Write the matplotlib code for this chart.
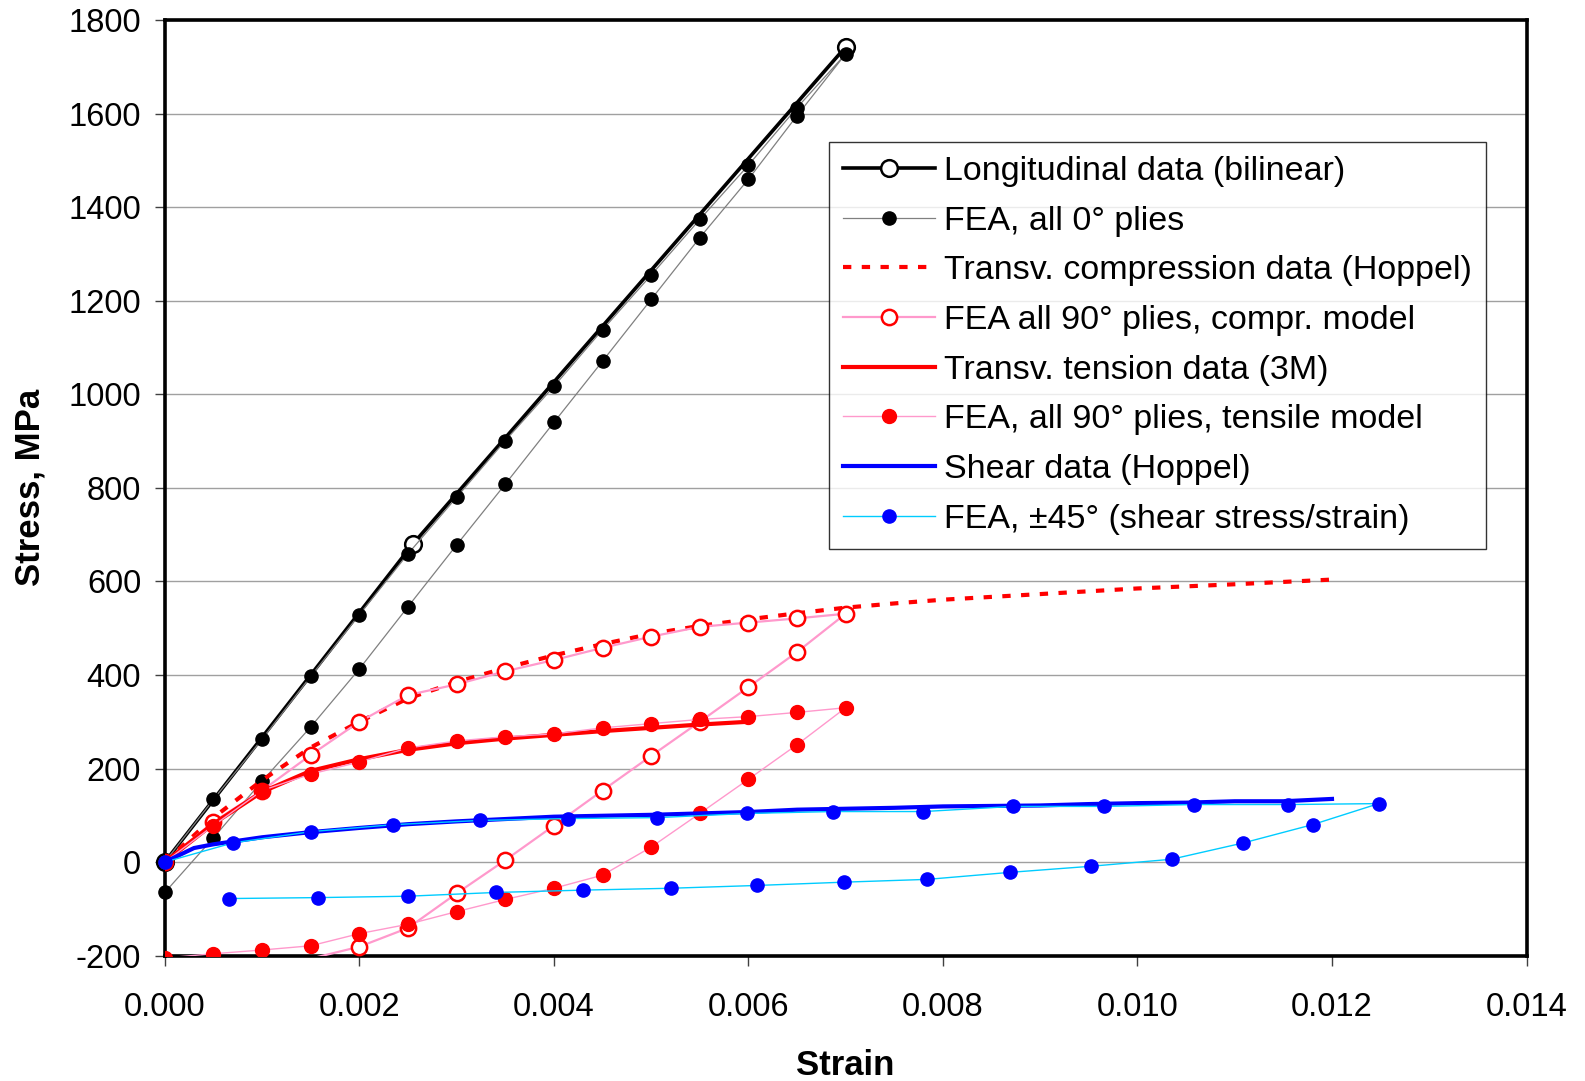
import numpy as np
import matplotlib.pyplot as plt

plt.rcParams['font.family'] = ['Liberation Sans', 'DejaVu Sans']
plt.rcParams['axes.unicode_minus'] = False

# longitudinal data (bilinear fit)
long_strain = [0.0, 0.00255, 0.0070]
long_stress = [0, 680, 1743]

# FEA, all 0 deg plies: loading then unloading branch
fea0_strain = [0.0, 0.0005, 0.001, 0.0015, 0.002, 0.0025, 0.003, 0.0035, 0.004, 0.0045,
               0.005, 0.0055, 0.006, 0.0065, 0.007,
               0.0065, 0.006, 0.0055, 0.005, 0.0045, 0.004, 0.0035, 0.003, 0.0025,
               0.002, 0.0015, 0.001, 0.0005, 0.0]
fea0_stress = [0, 134, 263, 397, 529, 659, 780, 901, 1017, 1138,
               1255, 1374, 1490, 1613, 1728,
               1596, 1460, 1335, 1203, 1071, 940, 808, 678, 546,
               413, 289, 173, 52, -65]

# transverse compression data (Hoppel)
comp_strain = [0.0, 0.0005, 0.001, 0.0015, 0.002, 0.0025, 0.003, 0.0035, 0.004, 0.0045,
               0.005, 0.0055, 0.006, 0.0065, 0.007, 0.0075, 0.008, 0.009, 0.010, 0.011, 0.012]
comp_stress = [0, 95, 175, 245, 300, 350, 385, 415, 442, 466,
               488, 505, 519, 532, 544, 553, 561, 573, 585, 594, 604]

# FEA, all 90 deg plies, compression model
fea90c_strain = [0.0, 0.0005, 0.001, 0.0015, 0.002, 0.0025, 0.003, 0.0035, 0.004, 0.0045,
                 0.005, 0.0055, 0.006, 0.0065, 0.007,
                 0.0065, 0.006, 0.0055, 0.005, 0.0045, 0.004, 0.0035, 0.003, 0.0025,
                 0.002, 0.001]
fea90c_stress = [0, 86, 153, 229, 300, 357, 380, 408, 432, 458,
                 482, 503, 512, 521, 531,
                 449, 374, 300, 227, 153, 78, 4, -67, -141,
                 -181, -232]

# transverse tension data (3M)
tens_strain = [0.0, 0.0005, 0.001, 0.0015, 0.002, 0.0025, 0.003, 0.0035, 0.004, 0.0045,
               0.005, 0.0055, 0.006]
tens_stress = [0, 82, 150, 195, 220, 240, 254, 264, 272, 280, 287, 294, 300]

# FEA, all 90 deg plies, tensile model
fea90t_strain = [0.0, 0.0005, 0.001, 0.0015, 0.002, 0.0025, 0.003, 0.0035, 0.004, 0.0045,
                 0.005, 0.0055, 0.006, 0.0065, 0.007,
                 0.0065, 0.006, 0.0055, 0.005, 0.0045, 0.004, 0.0035, 0.003, 0.0025,
                 0.002, 0.0015, 0.001, 0.0005, 0.0]
fea90t_stress = [0, 78, 153, 188, 214, 244, 259, 268, 274, 287,
                 296, 305, 311, 320, 330,
                 251, 177, 104, 32, -28, -56, -80, -106, -133,
                 -153, -179, -188, -196, -205]

# shear data (Hoppel)
shear_strain = [0.0, 0.0003, 0.0005, 0.001, 0.0015, 0.002, 0.0025, 0.003, 0.0035, 0.004,
                0.0045, 0.005, 0.0055, 0.006, 0.0065, 0.007, 0.0075, 0.008, 0.0085, 0.009,
                0.0095, 0.010, 0.0105, 0.011, 0.0115, 0.012]
shear_stress = [0, 30, 38, 53, 64, 73, 81, 87, 92, 97,
                99, 101, 104, 107, 112, 114, 116, 119, 120, 121,
                124, 126, 127, 130, 130, 135]

# FEA, +/-45 deg laminate (shear stress / strain)
fea45_strain = [0.0, 0.0007, 0.0015, 0.00235, 0.00324, 0.00414, 0.00506, 0.00599, 0.00687,
                0.0078, 0.00872, 0.00966, 0.01058, 0.01155, 0.01248,
                0.0118, 0.01109, 0.01035, 0.00952, 0.00869, 0.00784, 0.00698, 0.00609,
                0.0052, 0.0043, 0.0034, 0.0025, 0.00157, 0.00066]
fea45_stress = [0, 41, 65, 80, 89, 93, 95, 104, 108,
                108, 119, 119, 123, 123, 125,
                80, 41, 6, -9, -22, -37, -43, -50,
                -56, -60, -65, -73, -76, -78]

x_ticks = np.arange(0, 0.0141, 0.002)
y_ticks = np.arange(-200, 1801, 200)

fig = plt.figure(figsize=(15.85, 10.81), dpi=100)
ax = fig.add_axes([0.1040, 0.1160, 0.8591, 0.8653])

ax.plot(long_strain, long_stress, color='black', lw=2.6, marker='o', ms=12,
        mfc='white', mec='black', mew=1.8, zorder=3, clip_on=False,
        label='Longitudinal data (bilinear)')
ax.plot(fea0_strain, fea0_stress, color='#808080', lw=0.9, marker='o', ms=9.5,
        mfc='black', mec='black', zorder=3, clip_on=False,
        label='FEA, all 0° plies')
ax.plot(comp_strain, comp_stress, color='red', lw=3, linestyle=(0, (2, 2.5)),
        zorder=3, label='Transv. compression data (Hoppel)')
ax.plot(fea90c_strain, fea90c_stress, color='#FF99CC', lw=1.6, marker='o', ms=11,
        mfc='white', mec='red', mew=1.8, zorder=3,
        label='FEA all 90° plies, compr. model')
ax.plot(tens_strain, tens_stress, color='red', lw=3, zorder=3, clip_on=False,
        label='Transv. tension data (3M)')
ax.plot(fea90t_strain, fea90t_stress, color='#FF99CC', lw=1, marker='o', ms=10,
        mfc='red', mec='red', zorder=3,
        label='FEA, all 90° plies, tensile model')
ax.plot(shear_strain, shear_stress, color='#0000FF', lw=3, zorder=3, clip_on=False,
        label='Shear data (Hoppel)')
ax.plot(fea45_strain, fea45_stress, color='#00CCFF', lw=1, marker='o', ms=9.5,
        mfc='#0000FF', mec='#0000FF', zorder=3, clip_on=False,
        label='FEA, ±45° (shear stress/strain)')

ax.set_xlim(0, 0.014)
ax.set_ylim(-200, 1800)
ax.set_xticks(x_ticks)
ax.set_xticklabels([f'{t:.3f}' for t in x_ticks])
ax.set_yticks(y_ticks)
ax.yaxis.grid(True, color='#A0A0A0', lw=1)
ax.set_axisbelow(True)

for side in ax.spines.values():
    side.set_linewidth(2.6)
    side.set_color('black')

ax.tick_params(axis='both', direction='out', length=7, width=1, color='#404040',
               labelsize=23.5, pad=10)
ax.tick_params(axis='x', pad=19)

ax.set_xlabel('Strain', fontsize=25, fontweight='bold')
ax.set_ylabel('Stress, MPa', fontsize=25, fontweight='bold')
ax.xaxis.set_label_coords(0.5, -0.100)
ax.yaxis.set_label_coords(-0.087, 0.5)

leg = ax.legend(loc='upper left', bbox_to_anchor=(0.4878, 0.8703), borderaxespad=0,
                fontsize=24.5, frameon=True, fancybox=False, edgecolor='black',
                handlelength=2.7, handletextpad=0.25, labelspacing=0.55,
                borderpad=0.42)
leg.get_frame().set_linewidth(1)

fig.savefig('out.png', dpi=100)
